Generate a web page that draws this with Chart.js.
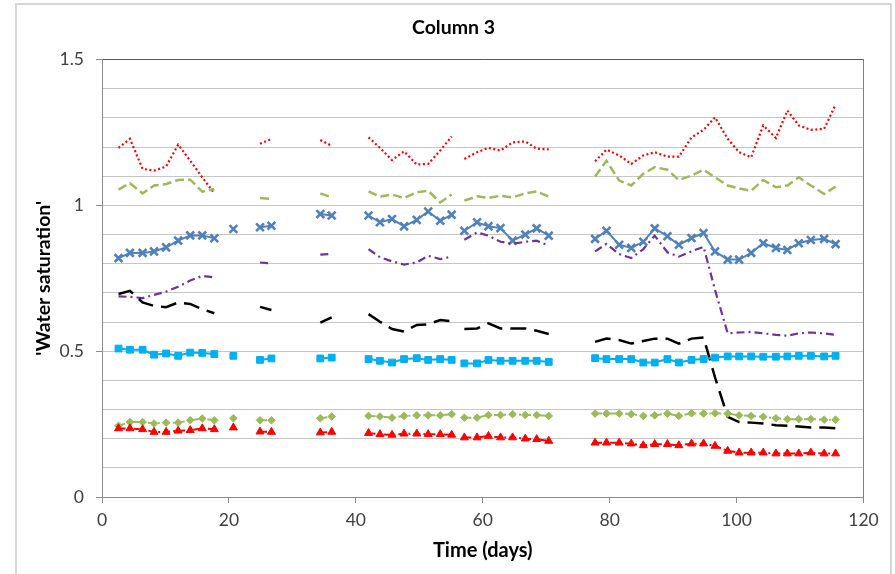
<!DOCTYPE html>
<html><head><meta charset="utf-8">
<script src="https://cdn.jsdelivr.net/npm/chart.js@4/dist/chart.umd.min.js"></script>
<style>
html,body{margin:0;padding:0;background:#fff;}
#wrap{position:relative;width:895px;height:574px;overflow:hidden;}
#frame{position:absolute;left:15px;top:3px;width:877px;height:620px;border:2px solid #d6d6d6;box-sizing:border-box;pointer-events:none;}
canvas{position:absolute;left:0;top:0;}
</style></head><body>
<div id="wrap"><canvas id="c" width="895" height="574"></canvas><div id="frame"></div></div>
<script>
// Sample days (null = break between measurement campaigns)
const days = [
  2.6, 4.4, 6.4, 8.2, 10.1, 12.0, 13.9, 15.8, 17.7, null,
  20.7, null,
  24.9, 26.7, null,
  34.4, 36.2, null,
  42.0, 43.8, 45.7, 47.6, 49.6, 51.4, 53.3, 55.1, null,
  57.1, 59.1, 60.9, 62.8, 64.7, 66.7, 68.5, 70.4, null,
  77.7, 79.5, 81.5, 83.4, 85.3, 87.1, 89.1, 90.9, 92.9, 94.8, 96.6, 98.6, 100.4, 102.3, 104.2, 106.2, 108.0, 109.8, 111.7, 113.8, 115.6
];
const redDotted = [
  1.197, 1.228, 1.125, 1.119, 1.133, 1.208, 1.153, 1.096, 1.041, null,
  null, null,
  1.211, 1.228, null,
  1.224, 1.204, null,
  1.233, 1.197, 1.155, 1.185, 1.140, 1.142, 1.188, 1.236, null,
  1.159, 1.182, 1.197, 1.188, 1.216, 1.219, 1.194, 1.192, null,
  1.151, 1.191, 1.171, 1.142, 1.171, 1.182, 1.167, 1.167, 1.233, 1.259, 1.302, 1.228, 1.182, 1.165, 1.274, 1.231, 1.325, 1.274, 1.259, 1.262, 1.346
];
const greenDashed = [
  1.054, 1.076, 1.041, 1.068, 1.073, 1.087, 1.088, 1.047, 1.056, null,
  null, null,
  1.025, 1.022, null,
  1.041, 1.027, null,
  1.048, 1.030, 1.037, 1.025, 1.045, 1.050, 1.010, 1.037, null,
  1.016, 1.031, 1.025, 1.033, 1.027, 1.041, 1.048, 1.030, null,
  1.099, 1.153, 1.085, 1.068, 1.108, 1.131, 1.122, 1.087, 1.102, 1.122, 1.096, 1.068, 1.058, 1.050, 1.087, 1.062, 1.068, 1.096, 1.068, 1.039, 1.064
];
const blueCross = [
  0.819, 0.837, 0.837, 0.842, 0.856, 0.879, 0.897, 0.897, 0.887, null,
  0.919, null,
  0.925, 0.930, null,
  0.970, 0.965, null,
  0.965, 0.942, 0.953, 0.928, 0.950, 0.979, 0.947, 0.968, null,
  0.913, 0.942, 0.928, 0.922, 0.879, 0.900, 0.921, 0.896, null,
  0.885, 0.913, 0.865, 0.854, 0.875, 0.921, 0.894, 0.865, 0.888, 0.905, 0.842, 0.814, 0.814, 0.837, 0.870, 0.854, 0.847, 0.870, 0.881, 0.885, 0.867
];
const purpleDashDot = [
  0.688, 0.686, 0.682, 0.693, 0.704, 0.721, 0.742, 0.758, 0.753, null,
  null, null,
  0.804, 0.801, null,
  0.831, 0.833, null,
  0.850, 0.822, 0.808, 0.797, 0.804, 0.827, 0.816, 0.824, null,
  0.882, 0.907, 0.896, 0.875, 0.868, 0.875, 0.879, 0.862, null,
  0.842, 0.868, 0.833, 0.819, 0.850, 0.896, 0.839, 0.824, 0.842, 0.858, 0.710, 0.561, 0.564, 0.566, 0.561, 0.556, 0.553, 0.561, 0.564, 0.561, 0.556
];
const blackLongDash = [
  0.696, 0.707, 0.667, 0.655, 0.651, 0.667, 0.662, 0.644, 0.630, null,
  null, null,
  0.652, 0.641, null,
  0.598, 0.616, null,
  0.627, 0.601, 0.576, 0.567, 0.590, 0.592, 0.607, 0.603, null,
  0.576, 0.578, 0.595, 0.578, 0.578, 0.578, 0.570, 0.559, null,
  0.532, 0.543, 0.538, 0.526, 0.535, 0.543, 0.543, 0.526, 0.543, 0.547, 0.410, 0.275, 0.257, 0.255, 0.252, 0.246, 0.244, 0.242, 0.238, 0.238, 0.236
];
const cyanSquare = [
  0.509, 0.505, 0.505, 0.488, 0.492, 0.484, 0.495, 0.494, 0.490, null,
  0.484, null,
  0.470, 0.475, null,
  0.475, 0.478, null,
  0.473, 0.467, 0.461, 0.473, 0.476, 0.470, 0.473, 0.470, null,
  0.458, 0.458, 0.470, 0.467, 0.467, 0.467, 0.467, 0.463, null,
  0.476, 0.473, 0.473, 0.473, 0.461, 0.461, 0.473, 0.461, 0.470, 0.473, 0.478, 0.482, 0.482, 0.482, 0.481, 0.481, 0.482, 0.484, 0.484, 0.482, 0.484
];
const greenDiamond = [
  0.244, 0.257, 0.257, 0.252, 0.255, 0.255, 0.263, 0.269, 0.263, null,
  0.270, null,
  0.263, 0.263, null,
  0.270, 0.276, null,
  0.278, 0.276, 0.272, 0.278, 0.280, 0.280, 0.280, 0.284, null,
  0.272, 0.272, 0.281, 0.281, 0.284, 0.281, 0.281, 0.278, null,
  0.286, 0.286, 0.286, 0.284, 0.278, 0.280, 0.286, 0.278, 0.287, 0.286, 0.287, 0.286, 0.280, 0.278, 0.275, 0.270, 0.267, 0.267, 0.267, 0.265, 0.265
];
const redTriangle = [
  0.235, 0.235, 0.232, 0.223, 0.223, 0.227, 0.229, 0.235, 0.232, null,
  0.238, null,
  0.224, 0.223, null,
  0.221, 0.223, null,
  0.219, 0.215, 0.213, 0.217, 0.217, 0.215, 0.215, 0.213, null,
  0.204, 0.204, 0.209, 0.204, 0.204, 0.200, 0.198, 0.192, null,
  0.186, 0.186, 0.186, 0.183, 0.177, 0.181, 0.181, 0.177, 0.183, 0.183, 0.175, 0.158, 0.152, 0.152, 0.152, 0.149, 0.149, 0.149, 0.152, 0.149, 0.149
];
const xTicks = [0, 20, 40, 60, 80, 100, 120];
const yLabelTicks = [0, 0.5, 1, 1.5];

const pts = arr => days.map((d, i) => ({ x: d, y: arr[i] }));

function lineSeries(arr, color, dash, width) {
  return { data: pts(arr), borderColor: color, backgroundColor: color, borderWidth: width,
    borderDash: dash, pointRadius: 0, tension: 0, spanGaps: false, xAxisID: 'x', yAxisID: 'y' };
}
function markerSeries(arr, color, style, radius, dash) {
  return { data: pts(arr), borderColor: color, backgroundColor: color, borderWidth: 2,
    borderDash: dash, pointStyle: style, pointRadius: radius, pointBorderWidth: style === 'crossRot' ? 2.6 : 1,
    pointBorderColor: color, pointBackgroundColor: color, tension: 0, spanGaps: false, xAxisID: 'x', yAxisID: 'y' };
}

Chart.defaults.font.family = 'Lato';
new Chart(document.getElementById('c'), {
  type: 'line',
  data: {
    datasets: [
      markerSeries(redTriangle, '#ff0000', 'triangle', 4.6, [7, 3, 2, 3]),
      markerSeries(greenDiamond, '#9bbb59', 'rectRot', 3.8, [7, 3, 2, 3]),
      markerSeries(cyanSquare, '#00b0f0', 'rect', 4.8, []),
      lineSeries(blackLongDash, '#000000', [16, 8], 2.5),
      lineSeries(purpleDashDot, '#7030a0', [8, 4, 2, 4], 2.2),
      markerSeries(blueCross, '#4f81bd', 'crossRot', 5.5, []),
      lineSeries(greenDashed, '#9bbb59', [9, 4], 2.5),
      lineSeries(redDotted, '#ff0000', [2, 2.5], 2.2)
    ]
  },
  options: {
    responsive: false,
    animation: false,
    layout: { padding: { left: 16, right: 4, top: 4, bottom: 0 } },
    plugins: {
      legend: { display: false },
      tooltip: { enabled: false },
      title: { display: true, text: 'Column 3', color: '#000', font: { size: 19.5, weight: 'bold' },
        padding: { top: 12.3, bottom: 19.8 } }
    },
    scales: {
      x: {
        type: 'linear', min: 0, max: 120,
        afterBuildTicks: s => { s.ticks = xTicks.map(v => ({ value: v })); },
        ticks: { font: { size: 17.5 }, color: '#404040', padding: 7, maxRotation: 0, autoSkip: false },
        grid: { drawOnChartArea: false, tickLength: 6, color: '#8c8c8c', tickColor: '#8c8c8c' },
        border: { color: '#8c8c8c', width: 1 },
        title: { display: true, text: 'Time (days)', color: '#000', font: { size: 20, weight: 'bold' },
          padding: { top: 0, bottom: 11 } },
        afterFit: s => { s.height = 77; }
      },
      y: {
        type: 'linear', min: 0, max: 1.5,
        ticks: {
          stepSize: 0.1, autoSkip: false, font: { size: 17.5 }, color: '#404040', padding: 12,
          callback: v => {
            const m = yLabelTicks.find(t => Math.abs(t - v) < 1e-6);
            return m === undefined ? '' : String(m);
          }
        },
        grid: {
          tickLength: 6,
          color: c => (c.tick && Math.abs(c.tick.value - 1.5) < 1e-6) ? '#595959' : '#c6c6c6',
          tickColor: c => (c.tick && yLabelTicks.some(t => Math.abs(t - c.tick.value) < 1e-6)) ? '#8c8c8c' : 'rgba(0,0,0,0)'
        },
        border: { color: '#8c8c8c', width: 1 },
        title: { display: true, text: "'Water saturation'", color: '#000', font: { size: 19.5, weight: 'bold' },
          padding: { top: 16.3, bottom: 0 } },
        afterFit: s => { s.width = 86; }
      },
      y2: {
        type: 'linear', position: 'right', min: 0, max: 1,
        ticks: { display: false },
        grid: { drawOnChartArea: false, drawTicks: true, tickLength: 27.5, tickColor: 'rgba(0,0,0,0)' },
        border: { display: true, color: '#7f7f7f', width: 1 },
        afterFit: s => { s.width = 27.5; }
      }
    }
  }
});
</script>
</body></html>
